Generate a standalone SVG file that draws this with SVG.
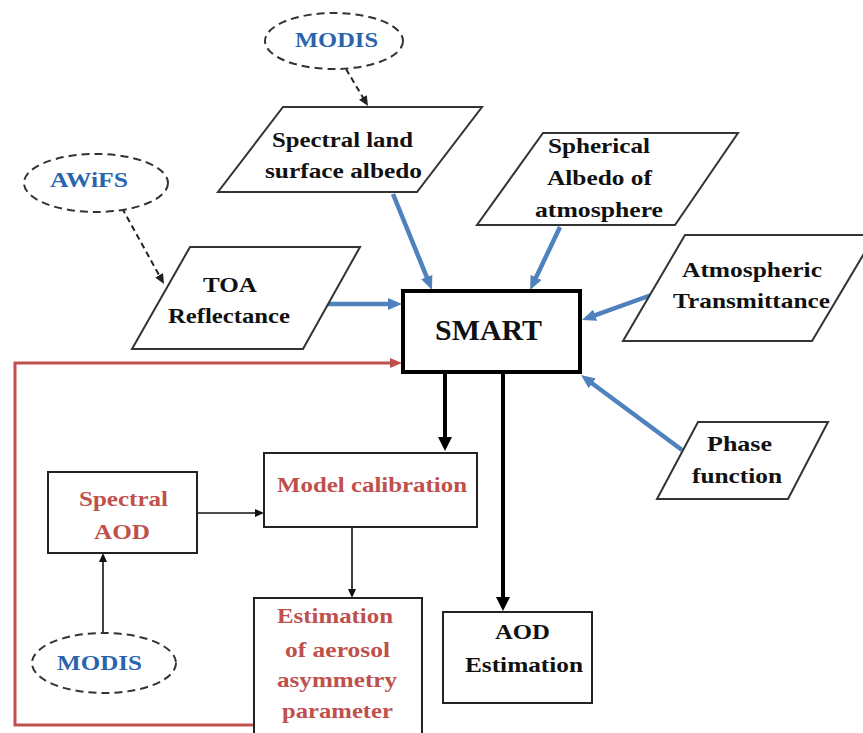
<svg xmlns="http://www.w3.org/2000/svg" width="863" height="733" viewBox="0 0 863 733">
<style>
  text { font-weight: bold; font-size: 22px; text-anchor: middle; }
  .k { fill: #111111; }
  .b { fill: #2a64ad; }
  .r { fill: #c0504d; }
  .big { font-size: 29px; }
  .para { fill: #ffffff; stroke: #333333; stroke-width: 2; }
  .box { fill: #ffffff; stroke: #222222; stroke-width: 2; }
  .ell { fill: #ffffff; stroke: #333333; stroke-width: 2; stroke-dasharray: 8 5; }
  .blue { stroke: #4f81bd; stroke-width: 4.5; fill: none; marker-end: url(#mBlue); }
  .thick { stroke: #000000; stroke-width: 4; fill: none; marker-end: url(#mThick); }
  .thin { stroke: #111111; stroke-width: 1.6; fill: none; marker-end: url(#mThin); }
  .dash { stroke: #222222; stroke-width: 2; stroke-dasharray: 6 4; fill: none; marker-end: url(#mDash); }
  .red { stroke: #c0504d; stroke-width: 3; fill: none; marker-end: url(#mRed); }
</style>
<defs>
  <marker id="mBlue" markerUnits="userSpaceOnUse" viewBox="0 0 14 12" markerWidth="14" markerHeight="12" refX="2" refY="6" orient="auto"><path d="M0,0 L14,6 L0,12 z" fill="#4f81bd"/></marker>
  <marker id="mThick" markerUnits="userSpaceOnUse" viewBox="0 0 14 14" markerWidth="14" markerHeight="14" refX="2" refY="7" orient="auto"><path d="M0,0 L14,7 L0,14 z" fill="#000000"/></marker>
  <marker id="mThin" markerUnits="userSpaceOnUse" viewBox="0 0 9 8" markerWidth="9" markerHeight="8" refX="1" refY="4" orient="auto"><path d="M0,0 L9,4 L0,8 z" fill="#111111"/></marker>
  <marker id="mDash" markerUnits="userSpaceOnUse" viewBox="0 0 10 9" markerWidth="10" markerHeight="9" refX="1" refY="4.5" orient="auto"><path d="M0,0 L10,4.5 L0,9 z" fill="#222222"/></marker>
  <marker id="mRed" markerUnits="userSpaceOnUse" viewBox="0 0 12 10" markerWidth="12" markerHeight="10" refX="1" refY="5" orient="auto"><path d="M0,0 L12,5 L0,10 z" fill="#c0504d"/></marker>
</defs>
<rect width="863" height="733" fill="#ffffff"/>

<g id="connectors">
  <line class="dash" x1="346" y1="69" x2="363.4" y2="98.3"/>
  <line class="dash" x1="122" y1="208" x2="159.6" y2="276.1"/>
  <line class="blue" x1="393" y1="194" x2="427.5" y2="278.9"/>
  <line class="blue" x1="560" y1="227" x2="535.2" y2="279.2"/>
  <line class="blue" x1="328" y1="304" x2="390" y2="304"/>
  <line class="blue" x1="657" y1="293" x2="593.3" y2="315.9"/>
  <line class="blue" x1="682" y1="450" x2="590.6" y2="382.2"/>
  <line class="thick" x1="445" y1="373" x2="445" y2="439"/>
  <line class="thick" x1="503" y1="373" x2="503" y2="599"/>
  <line class="thin" x1="198" y1="513" x2="256" y2="513"/>
  <line class="thin" x1="103" y1="633" x2="103" y2="561"/>
  <line class="thin" x1="352" y1="527" x2="352" y2="590"/>
  <polyline class="red" points="254,725 15,725 15,363 391,363"/>
</g>

<g font-family="'Liberation Serif', 'Times New Roman', 'DejaVu Serif', serif">
<g id="modis-top">
  <ellipse class="ell" cx="334" cy="41" rx="69" ry="28"/>
  <text class="b" x="336.5" y="47" textLength="83" lengthAdjust="spacingAndGlyphs">MODIS</text>
</g>
<g id="awifs">
  <ellipse class="ell" cx="96" cy="183" rx="72" ry="29"/>
  <text class="b" x="89" y="187" textLength="78" lengthAdjust="spacingAndGlyphs">AWiFS</text>
</g>
<g id="spectral-land">
  <polygon class="para" points="283,107 482,107 417,192 218,192"/>
  <text class="k" x="342.5" y="147" textLength="141" lengthAdjust="spacingAndGlyphs">Spectral land</text>
  <text class="k" x="343.5" y="178" textLength="157" lengthAdjust="spacingAndGlyphs">surface albedo</text>
</g>
<g id="toa">
  <polygon class="para" points="190,247 360,247 303,349 132,349"/>
  <text class="k" x="230" y="292" textLength="54" lengthAdjust="spacingAndGlyphs">TOA</text>
  <text class="k" x="229" y="323" textLength="122" lengthAdjust="spacingAndGlyphs">Reflectance</text>
</g>
<g id="spherical">
  <polygon class="para" points="543,133 738,133 675,225 477,225"/>
  <text class="k" x="599" y="153" textLength="102" lengthAdjust="spacingAndGlyphs">Spherical</text>
  <text class="k" x="599.5" y="185" textLength="105" lengthAdjust="spacingAndGlyphs">Albedo of</text>
  <text class="k" x="599" y="217" textLength="128" lengthAdjust="spacingAndGlyphs">atmosphere</text>
</g>
<g id="atmospheric">
  <polygon class="para" points="685,235 875,235 812,341 623,341"/>
  <text class="k" x="752" y="277" textLength="140" lengthAdjust="spacingAndGlyphs">Atmospheric</text>
  <text class="k" x="751.5" y="308" textLength="157" lengthAdjust="spacingAndGlyphs">Transmittance</text>
</g>
<g id="smart">
  <rect x="403" y="291" width="177" height="81" fill="#ffffff" stroke="#000000" stroke-width="4"/>
  <text class="k big" x="488.5" y="340" textLength="107" lengthAdjust="spacingAndGlyphs">SMART</text>
</g>
<g id="phase">
  <polygon class="para" points="698,422 828,422 788,499 657,499"/>
  <text class="k" x="739.5" y="451" textLength="65" lengthAdjust="spacingAndGlyphs">Phase</text>
  <text class="k" x="737" y="483" textLength="90" lengthAdjust="spacingAndGlyphs">function</text>
</g>
<g id="model-calibration">
  <rect class="box" x="264" y="453" width="213" height="74"/>
  <text class="r" x="372" y="492" textLength="190" lengthAdjust="spacingAndGlyphs">Model calibration</text>
</g>
<g id="spectral-aod">
  <rect class="box" x="48" y="472" width="149" height="81"/>
  <text class="r" x="123.5" y="506" textLength="89" lengthAdjust="spacingAndGlyphs">Spectral</text>
  <text class="r" x="122" y="539" textLength="56" lengthAdjust="spacingAndGlyphs">AOD</text>
</g>
<g id="modis-bottom">
  <ellipse class="ell" cx="104" cy="663" rx="72" ry="30"/>
  <text class="b" x="99.5" y="670" textLength="85" lengthAdjust="spacingAndGlyphs">MODIS</text>
</g>
<g id="estimation-asymmetry">
  <rect class="box" x="254" y="598" width="168" height="150"/>
  <text class="r" x="335" y="623" textLength="116" lengthAdjust="spacingAndGlyphs">Estimation</text>
  <text class="r" x="337.5" y="657" textLength="105" lengthAdjust="spacingAndGlyphs">of aerosol</text>
  <text class="r" x="337" y="687" textLength="120" lengthAdjust="spacingAndGlyphs">asymmetry</text>
  <text class="r" x="337.5" y="718" textLength="111" lengthAdjust="spacingAndGlyphs">parameter</text>
</g>
<g id="aod-estimation">
  <rect class="box" x="443" y="612" width="149" height="91"/>
  <text class="k" x="522.5" y="639" textLength="55" lengthAdjust="spacingAndGlyphs">AOD</text>
  <text class="k" x="524" y="672" textLength="118" lengthAdjust="spacingAndGlyphs">Estimation</text>
</g>
</g>
</svg>
